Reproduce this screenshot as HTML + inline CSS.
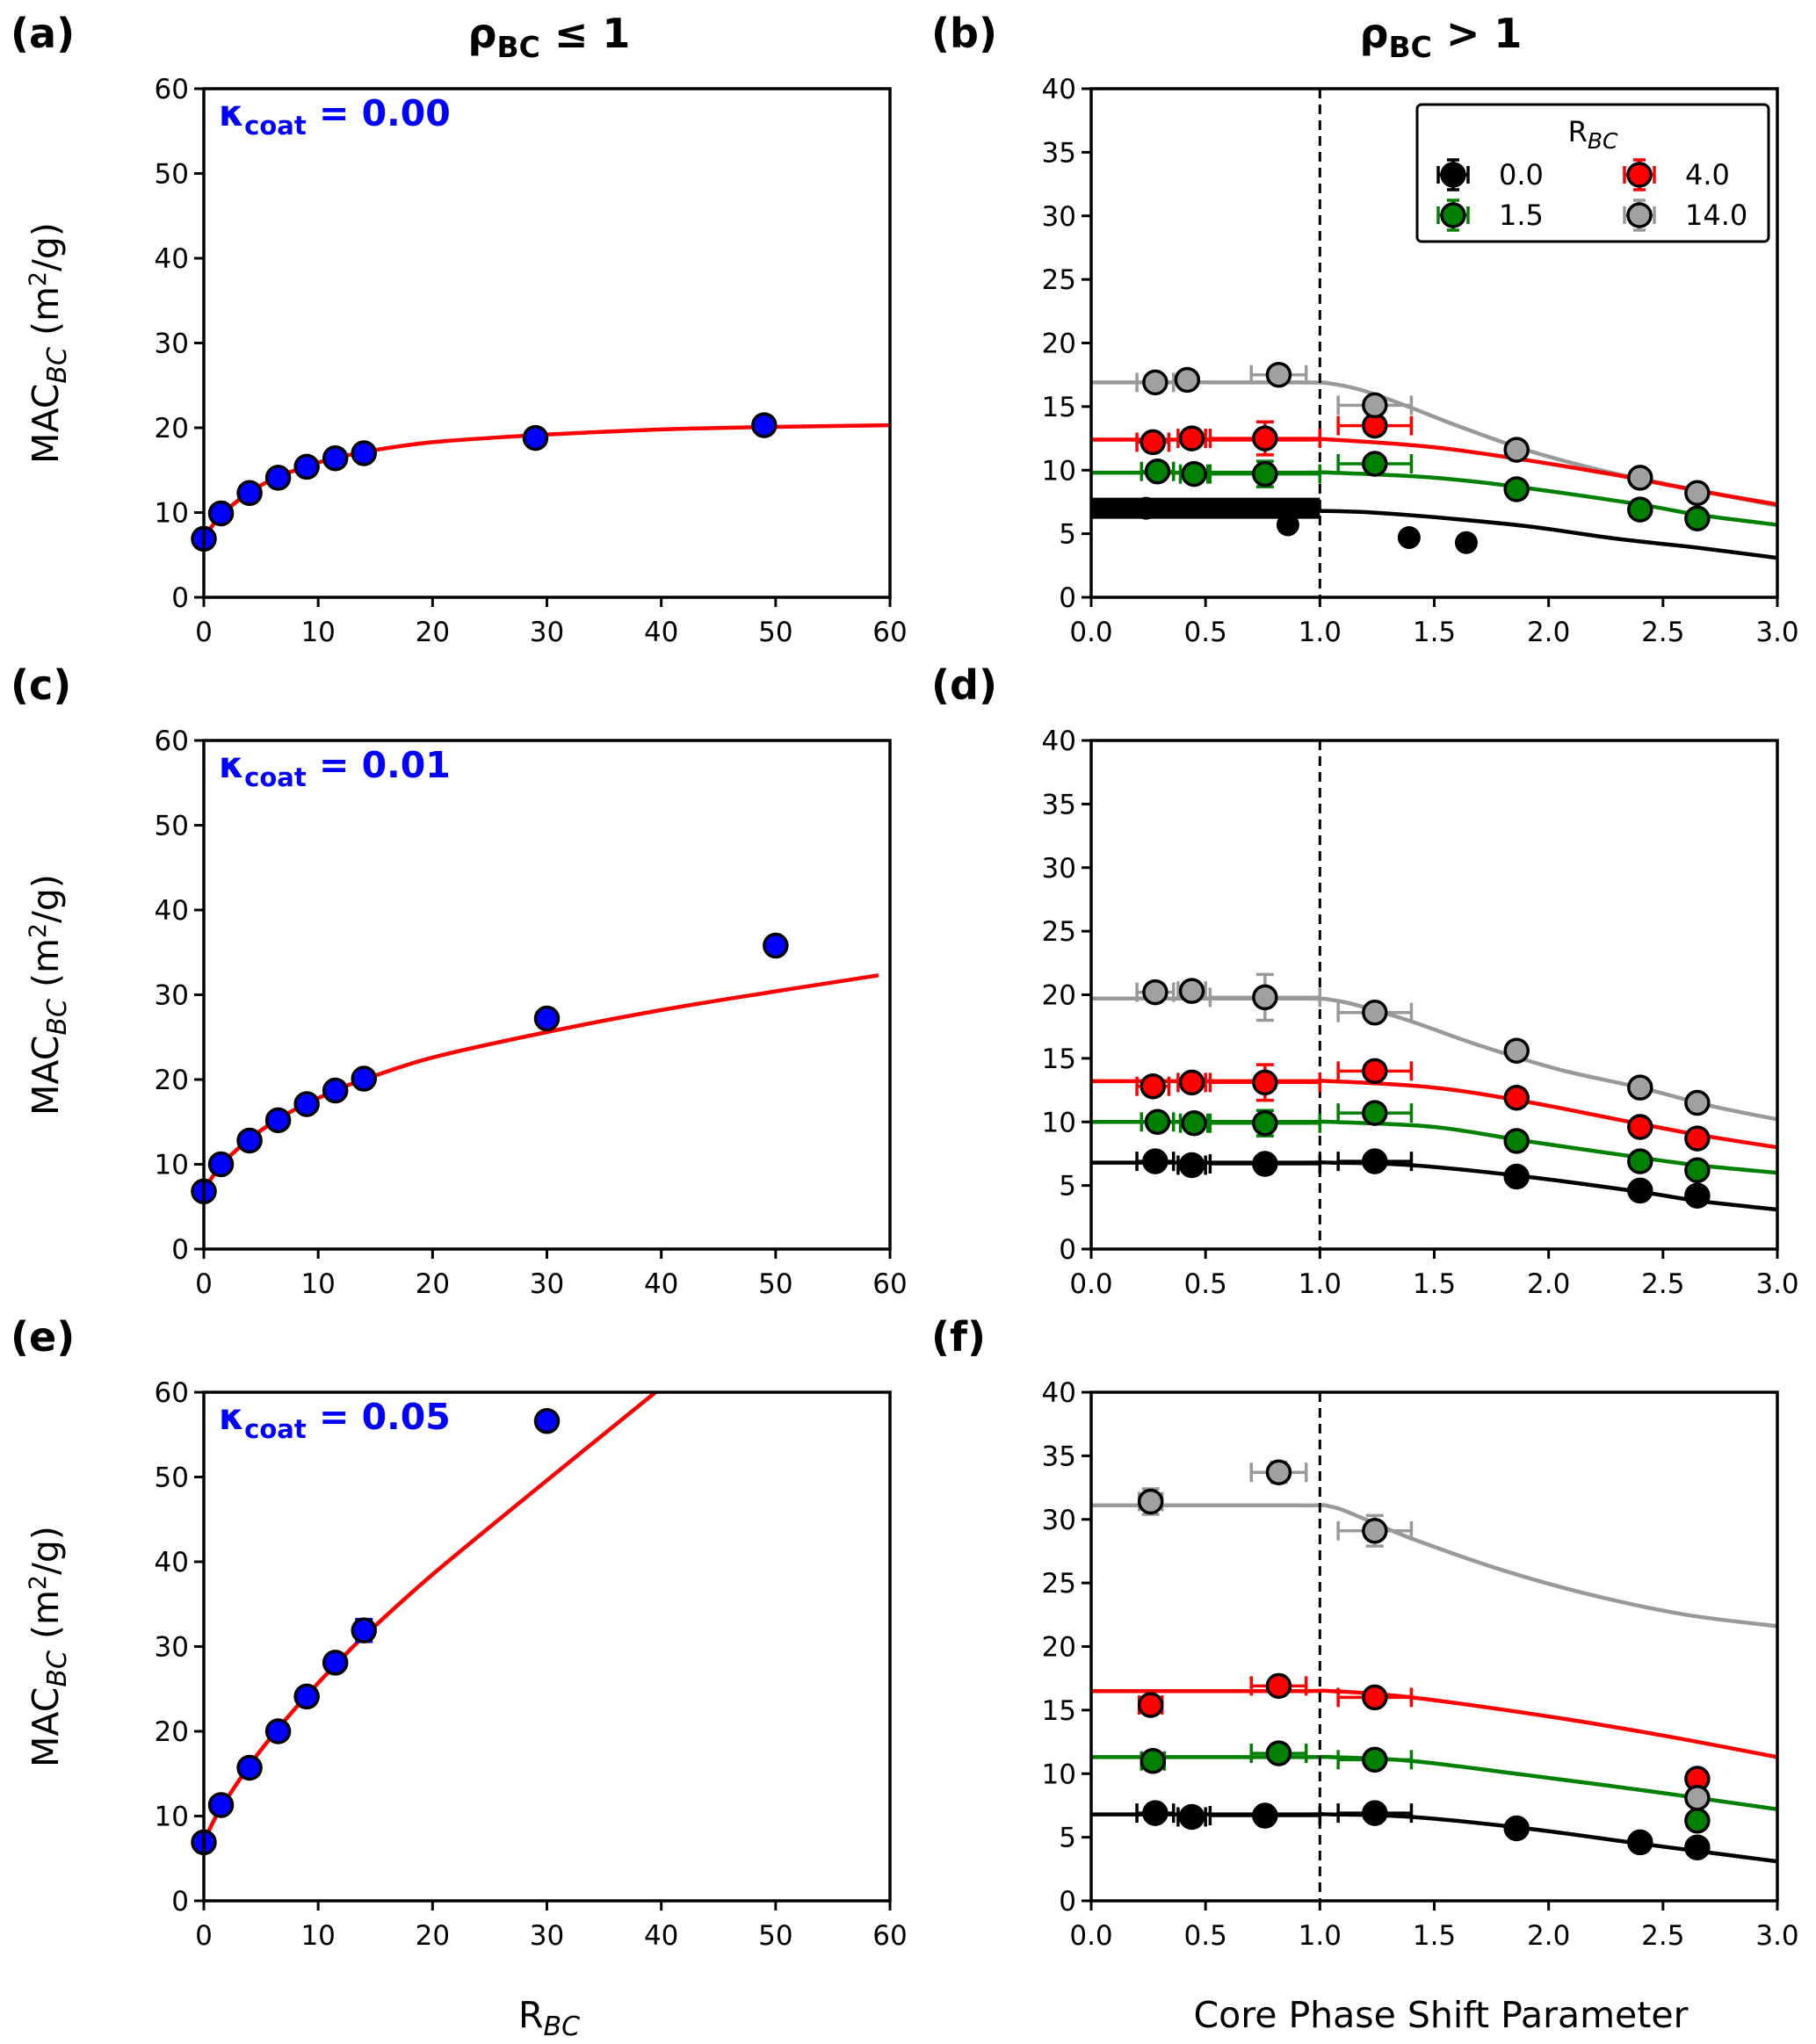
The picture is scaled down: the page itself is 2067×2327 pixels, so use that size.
<!DOCTYPE html>
<html><head><meta charset="utf-8">
<style>
html,body{margin:0;padding:0;background:#fff;}
svg{display:block;font-family:"DejaVu Sans","Liberation Sans",sans-serif;}
</style></head>
<body>
<svg id="fig" width="2067" height="2327" viewBox="0 0 2067 2327" xmlns="http://www.w3.org/2000/svg"></svg>
<script>
// ---------- Panel (a) data ----------
const aX=[0,1.5,4,6.5,9,11.5,14,29,49];
const aY=[6.9,9.9,12.3,14.1,15.4,16.4,17.0,18.8,20.3];
const aFitX=[0,1,2,4,6,8,10,12,14,16,20,25,30,40,50,60];
const aFitY=[7,8.9,10.3,12.4,13.9,15,15.9,16.6,17.1,17.6,18.3,18.8,19.2,19.8,20.1,20.3];
// ---------- Panel (c) data ----------
const cX=[0,1.5,4,6.5,9,11.5,14,30,50];
const cY=[6.8,10,12.8,15.2,17.1,18.7,20.1,27.2,35.8];
const cFitX=[0,1,2,4,6,8,10,12,14,20,30,40,50,59];
const cFitY=[7,9,10.6,13,14.9,16.5,17.8,19,20,22.6,25.6,28.2,30.4,32.3];
// ---------- Panel (e) data ----------
const eX=[0,1.5,4,6.5,9,11.5,14,30];
const eY=[6.9,11.3,15.7,20,24.1,28.1,31.9,56.6];
const eYerr=[0,0,0,0,0.8,0.9,1.3,0];
const eFitX=[0,1,2,4,6,8,10,12,14,20,30,39.5];
const eFitY=[7,9.8,12,16,19.5,22.7,25.7,28.5,31.2,38.5,49.6,60];
const leftXTicks=[0,10,20,30,40,50,60];
const leftYTicks=[0,10,20,30,40,50,60];
const rightXTicks=[0,0.5,1,1.5,2,2.5,3];
const rightYTicks=[0,5,10,15,20,25,30,35,40];
// ---------- Panel (b) data ----------
const bGrayFitX=[0,0.9,1.05,1.2,1.4,1.6,1.9,2.25,2.6,3];
const bGrayFitY=[16.9,16.9,16.8,16.2,14.9,13.5,11.6,9.9,8.6,7.2];
const bRedFitX=[0,0.9,1.05,1.5,1.9,2.3,2.65,3];
const bRedFitY=[12.4,12.4,12.4,11.8,10.8,9.6,8.4,7.3];
const bGreenFitX=[0,0.9,1.05,1.5,1.9,2.4,2.65,3];
const bGreenFitY=[9.8,9.8,9.8,9.4,8.6,7.3,6.5,5.7];
const bBlackFitX=[1,1.2,1.5,1.9,2.3,2.65,3];
const bBlackFitY=[6.8,6.7,6.3,5.6,4.6,3.9,3.1];
const bBandX=[0,1];
const bBandY=[7.0];
const bGrayX=[0.28,0.42,0.82,1.24,1.86,2.4,2.65];
const bGrayY=[16.9,17.1,17.5,15.1,11.6,9.4,8.2];
const bGrayXerr=[0.08,0,0.12,0.16,0,0,0];
const bGrayYerr=[0,0,0,0,0,0,0];
const bRedX=[0.27,0.44,0.76,1.24];
const bRedY=[12.2,12.5,12.5,13.5];
const bRedXerr=[0.07,0.06,0.24,0.16];
const bRedYerr=[0,0,1.3,0];
const bGreenX=[0.29,0.45,0.76,1.24,1.86,2.4,2.65];
const bGreenY=[9.9,9.7,9.7,10.5,8.5,6.9,6.2];
const bGreenXerr=[0.07,0.06,0.24,0.16,0,0,0];
const bGreenYerr=[0,0,1.0,0,0,0,0];
const bBlackX=[0.24,0.86,1.39,1.64];
const bBlackY=[7.0,5.7,4.7,4.3];
const bBlackXerr=[0,0,0,0];
const bBlackYerr=[0,0,0,0];
// ---------- Panel (d) data ----------
const dGrayFitX=[0,0.9,1.05,1.2,1.4,1.7,2.05,2.4,2.7,3];
const dGrayFitY=[19.7,19.7,19.6,19.0,17.9,16,14.1,12.7,11.3,10.2];
const dRedFitX=[0,0.9,1.05,1.5,1.9,2.3,2.65,3];
const dRedFitY=[13.2,13.2,13.2,12.7,11.6,10.2,9,8];
const dGreenFitX=[0,0.9,1.05,1.5,1.9,2.4,2.65,3];
const dGreenFitY=[10,10,10,9.6,8.5,7.2,6.6,6];
const dBlackFitX=[0,0.9,1.05,1.4,1.9,2.4,2.65,3];
const dBlackFitY=[6.8,6.8,6.8,6.6,5.7,4.5,3.8,3.1];
const dGrayX=[0.28,0.44,0.76,1.24,1.86,2.4,2.65];
const dGrayY=[20.2,20.3,19.8,18.6,15.6,12.7,11.5];
const dGrayXerr=[0.08,0.06,0.24,0.16,0,0,0];
const dGrayYerr=[0,0,1.8,0,0,0,0];
const dRedX=[0.27,0.44,0.76,1.24,1.86,2.4,2.65];
const dRedY=[12.8,13.1,13.1,14,11.9,9.6,8.7];
const dRedXerr=[0.07,0.06,0.24,0.16,0,0,0];
const dRedYerr=[0,0,1.4,0,0,0,0];
const dGreenX=[0.29,0.45,0.76,1.24,1.86,2.4,2.65];
const dGreenY=[10,9.9,9.9,10.7,8.5,6.9,6.2];
const dGreenXerr=[0.07,0.06,0.24,0.16,0,0,0];
const dGreenYerr=[0,0,1.0,0,0,0,0];
const dBlackX=[0.28,0.44,0.76,1.24,1.86,2.4,2.65];
const dBlackY=[6.9,6.6,6.7,6.9,5.7,4.6,4.2];
const dBlackXerr=[0.08,0.06,0.24,0.16,0,0,0];
const dBlackYerr=[0,0,0,0,0,0,0];
// ---------- Panel (f) data ----------
const fGrayFitX=[0,0.9,1.05,1.2,1.4,1.8,2.2,2.6,3];
const fGrayFitY=[31.1,31.1,31.0,30.0,28.5,26,24,22.5,21.6];
const fRedFitX=[0,0.9,1.05,1.4,2,2.5,3];
const fRedFitY=[16.5,16.5,16.5,16,14.5,13,11.3];
const fGreenFitX=[0,0.9,1.05,1.4,1.9,2.45,3];
const fGreenFitY=[11.3,11.3,11.3,11,9.9,8.6,7.2];
const fBlackFitX=[0,0.9,1.05,1.4,1.9,2.4,3];
const fBlackFitY=[6.8,6.8,6.8,6.6,5.7,4.5,3.1];
const fGrayX=[0.26,0.82,1.24,2.65];
const fGrayY=[31.4,33.7,29.1,8.1];
const fGrayXerr=[0.05,0.12,0.16,0];
const fGrayYerr=[1,0.8,1.2,0];
const fRedX=[0.26,0.82,1.24,2.65];
const fRedY=[15.4,16.9,16,9.6];
const fRedXerr=[0.05,0.12,0.16,0];
const fRedYerr=[0,0,0,0];
const fGreenX=[0.27,0.82,1.24,2.65];
const fGreenY=[11,11.6,11.1,6.3];
const fGreenXerr=[0.05,0.12,0.16,0];
const fGreenYerr=[0,0,0,0];
const fBlackX=[0.28,0.44,0.76,1.24,1.86,2.4,2.65];
const fBlackY=[6.9,6.6,6.7,6.9,5.7,4.6,4.2];
const fBlackXerr=[0.08,0.06,0.24,0.16,0,0,0];
const fBlackYerr=[0,0,0,0,0,0,0];

const NS="http://www.w3.org/2000/svg";
const svg=document.getElementById('fig');
function mk(tag,attrs,parent){const e=document.createElementNS(NS,tag);for(const k in attrs)e.setAttribute(k,attrs[k]);(parent||svg).appendChild(e);return e;}
function txt(s,attrs,parent){const e=mk('text',attrs,parent);e.textContent=s;return e;}

const COL={gray:'#999999',red:'#ff0000',green:'#008000',black:'#000000'};
const FILL={gray:'#a0a0a0',red:'#ff0000',green:'#008000',black:'#000000'};
const L0=232,R0=1242,PW=781,PH=579;
const ROWS=[101,843,1585];
const TF=31;

function makeAxes(name,x0,y0,xmin,xmax,ymin,ymax,xt,yt,xfmt){
  const g=mk('g',{});
  
  
  const sx=v=>x0+(v-xmin)/(xmax-xmin)*PW;
  const sy=v=>y0+PH-(v-ymin)/(ymax-ymin)*PH;
  const tg=mk('g',{},g);
  
  
  xt.forEach(v=>{const x=sx(v);mk('line',{x1:x,x2:x,y1:y0+PH,y2:y0+PH+11,stroke:'#000','stroke-width':3},tg);
    txt(xfmt(v),{x:x,y:y0+PH+50,'font-size':TF,'text-anchor':'middle'},tg);});
  const yg=mk('g',{},g);
  
  
  yt.forEach(v=>{const y=sy(v);mk('line',{x1:x0-11,x2:x0,y1:y,y2:y,stroke:'#000','stroke-width':3},yg);
    txt(String(v),{x:x0-17,y:y+11,'font-size':TF,'text-anchor':'end'},yg);});
  const clip=mk('clipPath',{id:'clip-'+name},g);
  mk('rect',{x:x0,y:y0,width:PW,height:PH},clip);
  const plot=mk('g',{'clip-path':'url(#clip-'+name+')'},g);
  
  
  const frame=mk('rect',{x:x0,y:y0,width:PW,height:PH,fill:'none',stroke:'#000','stroke-width':3.5},g);
  
  
  return {g,plot,sx,sy,frame,x0,y0};
}
function curve(ax,xs,ys,color,name){
  const P=xs.map((x,i)=>[ax.sx(x),ax.sy(ys[i])]);
  let d='M'+P[0][0].toFixed(1)+' '+P[0][1].toFixed(1);
  for(let i=0;i<P.length-1;i++){
    const p0=P[Math.max(0,i-1)],p1=P[i],p2=P[i+1],p3=P[Math.min(P.length-1,i+2)];
    const c1=[p1[0]+(p2[0]-p0[0])/6,p1[1]+(p2[1]-p0[1])/6];
    const c2=[p2[0]-(p3[0]-p1[0])/6,p2[1]-(p3[1]-p1[1])/6];
    d+=' C'+c1[0].toFixed(1)+' '+c1[1].toFixed(1)+' '+c2[0].toFixed(1)+' '+c2[1].toFixed(1)+' '+p2[0].toFixed(1)+' '+p2[1].toFixed(1);
  }
  const p=mk('path',{d:d,fill:'none',stroke:color,'stroke-width':4.5,'stroke-linejoin':'round'},ax.plot);
  
  
}
function points(ax,xs,ys,xerr,yerr,key,name,noEdge){
  const g=mk('g',{},ax.g);
  
  
  const c=COL[key];
  xs.forEach((x,i)=>{
    const px=ax.sx(x),py=ax.sy(ys[i]);
    const xe=xerr?xerr[i]:0, ye=yerr?yerr[i]:0;
    if(xe>0){const a=ax.sx(x-xe),b=ax.sx(x+xe);
      mk('line',{x1:a,x2:b,y1:py,y2:py,stroke:c,'stroke-width':3.5},g);
      mk('line',{x1:a,x2:a,y1:py-11,y2:py+11,stroke:c,'stroke-width':3.5},g);
      mk('line',{x1:b,x2:b,y1:py-11,y2:py+11,stroke:c,'stroke-width':3.5},g);}
    if(ye>0){const a=ax.sy(ys[i]-ye),b=ax.sy(ys[i]+ye);
      mk('line',{x1:px,x2:px,y1:a,y2:b,stroke:c,'stroke-width':3.5},g);
      mk('line',{x1:px-10,x2:px+10,y1:a,y2:a,stroke:c,'stroke-width':3.5},g);
      mk('line',{x1:px-10,x2:px+10,y1:b,y2:b,stroke:c,'stroke-width':3.5},g);}
    const m=mk('circle',{cx:px,cy:py,r:13,fill:FILL[key],stroke:'#000','stroke-width':noEdge?0:3.5},g);
    
    
  });
}
const fmtInt=v=>String(v), fmt1=v=>v.toFixed(1);

const leftData=[
  ['panel-a',aX,aY,null,aFitX,aFitY,'0.00'],
  ['panel-c',cX,cY,null,cFitX,cFitY,'0.01'],
  ['panel-e',eX,eY,eYerr,eFitX,eFitY,'0.05']];
leftData.forEach((p,r)=>{
  const ax=makeAxes(p[0],L0,ROWS[r],0,60,0,60,leftXTicks,leftYTicks,fmtInt);
  curve(ax,p[4],p[5],'#ff0000','fit-curve');
  COL.blue='#0000ff';FILL.blue='#0000ff';
  points(ax,p[1],p[2],null,p[3],'blue','data-points');
  ax.g.appendChild(ax.frame);
  const t=txt('',{x:249,y:ROWS[r]+42,'font-size':41,'font-weight':'bold',fill:'#0000ff'},ax.g);
  
  
  const t1=mk('tspan',{},t);t1.textContent='κ';
  const t2=mk('tspan',{'font-size':29,dy:10},t);t2.textContent='coat';
  const t3=mk('tspan',{dy:-10},t);t3.textContent=' = '+p[6];
  const yl=txt('',{transform:'translate(66,'+(ROWS[r]+PH/2)+') rotate(-90)','font-size':41,'text-anchor':'middle'});
  
  
  const y1=mk('tspan',{},yl);y1.textContent='MAC';
  const y2=mk('tspan',{'font-size':30,'font-style':'italic',dy:9},yl);y2.textContent='BC';
  const y3=mk('tspan',{dy:-9},yl);y3.textContent=' (m';
  const y4=mk('tspan',{'font-size':27,dy:-14},yl);y4.textContent='2';
  const y5=mk('tspan',{dy:14},yl);y5.textContent='/g)';
});

const rightData=[
 ['panel-b',{gray:[bGrayFitX,bGrayFitY],red:[bRedFitX,bRedFitY],green:[bGreenFitX,bGreenFitY],black:[bBlackFitX,bBlackFitY]},
  {black:[bBlackX,bBlackY,bBlackXerr,bBlackYerr],green:[bGreenX,bGreenY,bGreenXerr,bGreenYerr],red:[bRedX,bRedY,bRedXerr,bRedYerr],gray:[bGrayX,bGrayY,bGrayXerr,bGrayYerr]}],
 ['panel-d',{gray:[dGrayFitX,dGrayFitY],red:[dRedFitX,dRedFitY],green:[dGreenFitX,dGreenFitY],black:[dBlackFitX,dBlackFitY]},
  {black:[dBlackX,dBlackY,dBlackXerr,dBlackYerr],green:[dGreenX,dGreenY,dGreenXerr,dGreenYerr],red:[dRedX,dRedY,dRedXerr,dRedYerr],gray:[dGrayX,dGrayY,dGrayXerr,dGrayYerr]}],
 ['panel-f',{gray:[fGrayFitX,fGrayFitY],red:[fRedFitX,fRedFitY],green:[fGreenFitX,fGreenFitY],black:[fBlackFitX,fBlackFitY]},
  {black:[fBlackX,fBlackY,fBlackXerr,fBlackYerr],green:[fGreenX,fGreenY,fGreenXerr,fGreenYerr],red:[fRedX,fRedY,fRedXerr,fRedYerr],gray:[fGrayX,fGrayY,fGrayXerr,fGrayYerr]}]];
rightData.forEach((p,r)=>{
  const ax=makeAxes(p[0],R0,ROWS[r],0,3,0,40,rightXTicks,rightYTicks,fmt1);
  ['gray','red','green','black'].forEach(k=>curve(ax,p[1][k][0],p[1][k][1],COL[k],k+'-fit-curve'));
  if(r===0){
    const band=mk('line',{x1:ax.sx(bBandX[0]),x2:ax.sx(bBandX[1]),y1:ax.sy(bBandY[0]),y2:ax.sy(bBandY[0]),stroke:'#000','stroke-width':24},ax.plot);
    
    
  }
  const dl=mk('line',{x1:ax.sx(1),x2:ax.sx(1),y1:ROWS[r],y2:ROWS[r]+PH,stroke:'#000','stroke-width':3,'stroke-dasharray':'11,7'},ax.g);
  
  
  ['black','green','red','gray'].forEach(k=>{const s=p[2][k];points(ax,s[0],s[1],s[2],s[3],k,k+'-points',r===0&&k==='black');});
  ax.g.appendChild(ax.frame);
});

const lg=mk('g',{});


mk('rect',{x:1613,y:119,width:400,height:156,rx:5,fill:'#fff',stroke:'#000','stroke-width':3},lg);
const lt=txt('',{x:1813,y:161,'font-size':32,'text-anchor':'middle'},lg);
const lt1=mk('tspan',{},lt);lt1.textContent='R';
const lt2=mk('tspan',{'font-size':25,'font-style':'italic',dy:8},lt);lt2.textContent='BC';
const legItems=[['black','0.0',1654,199],['red','4.0',1866,199],['green','1.5',1654,245],['gray','14.0',1866,245]];
legItems.forEach(it=>{
  const g=mk('g',{},lg);
  
  
  const c=COL[it[0]],x=it[2],y=it[3];
  mk('line',{x1:x,x2:x,y1:y-17,y2:y+17,stroke:c,'stroke-width':3.5},g);
  mk('line',{x1:x-7,x2:x+7,y1:y-17,y2:y-17,stroke:c,'stroke-width':3.5},g);
  mk('line',{x1:x-7,x2:x+7,y1:y+17,y2:y+17,stroke:c,'stroke-width':3.5},g);
  mk('line',{x1:x-17,x2:x+17,y1:y,y2:y,stroke:c,'stroke-width':3.5},g);
  mk('line',{x1:x-17,x2:x-17,y1:y-10,y2:y+10,stroke:c,'stroke-width':3.5},g);
  mk('line',{x1:x+17,x2:x+17,y1:y-10,y2:y+10,stroke:c,'stroke-width':3.5},g);
  mk('circle',{cx:x,cy:y,r:13,fill:FILL[it[0]],stroke:'#000','stroke-width':3.5},g);
  txt(it[1],{x:x+52,y:y+11,'font-size':32},g);
});

[['(a)',12,54],['(b)',1060,54],['(c)',12,796],['(d)',1060,796],['(e)',12,1538],['(f)',1060,1538]].forEach(l=>{
  const t=txt(l[0],{x:l[1],y:l[2],'font-size':46,'font-weight':'bold'});
  
  
});
[['≤ 1',625],['> 1',1640]].forEach(tt=>{
  const t=txt('',{x:tt[1],y:54,'font-size':46,'font-weight':'bold','text-anchor':'middle'});
  
  
  const a=mk('tspan',{},t);a.textContent='ρ';
  const b=mk('tspan',{'font-size':33,dy:11},t);b.textContent='BC';
  const c=mk('tspan',{dy:-11},t);c.textContent=' '+tt[0];
});
const xl1=txt('',{x:625,y:2308,'font-size':41,'text-anchor':'middle'});


const xa=mk('tspan',{},xl1);xa.textContent='R';
const xb=mk('tspan',{'font-size':30,'font-style':'italic',dy:9},xl1);xb.textContent='BC';
const xl2=txt('Core Phase Shift Parameter',{x:1640,y:2308,'font-size':41,'text-anchor':'middle'});


</script>
</body></html>
